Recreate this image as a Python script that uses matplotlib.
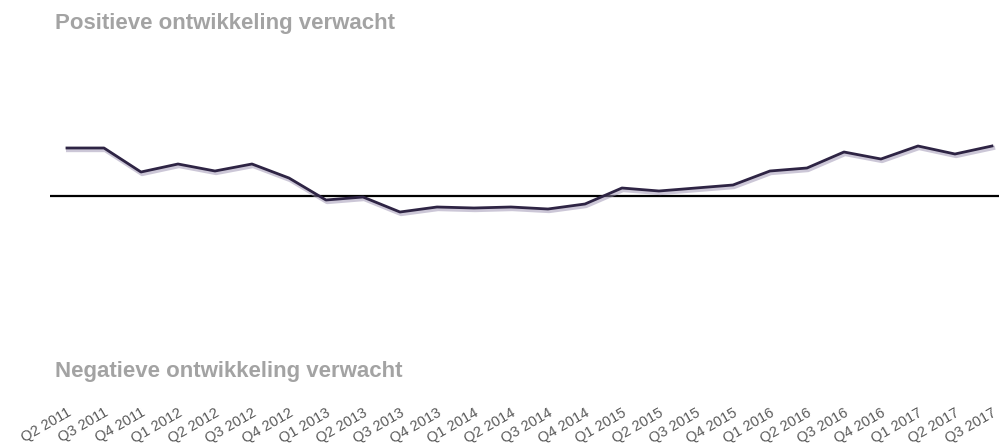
import matplotlib
matplotlib.use("Agg")
import matplotlib.pyplot as plt
import matplotlib.patheffects as pe
import numpy as np

# ── data ──────────────────────────────────────────────
quarters = [
    "Q2 2011", "Q3 2011", "Q4 2011", "Q1 2012", "Q2 2012", "Q3 2012",
    "Q4 2012", "Q1 2013", "Q2 2013", "Q3 2013", "Q4 2013", "Q1 2014",
    "Q2 2014", "Q3 2014", "Q4 2014", "Q1 2015", "Q2 2015", "Q3 2015",
    "Q4 2015", "Q1 2016", "Q2 2016", "Q3 2016", "Q4 2016", "Q1 2017",
    "Q2 2017", "Q3 2017",
]
values = [48, 48, 24, 32, 25, 32, 18, -4, -1, -16, -11, -12, -11,
          -13, -8, 8, 5, 8, 11, 25, 28, 44, 37, 50, 42, 50]

title_pos = "Positieve ontwikkeling verwacht"
title_neg = "Negatieve ontwikkeling verwacht"

plt.rcParams["font.family"] = ["Liberation Sans", "DejaVu Sans"]

fig = plt.figure(figsize=(9.99, 4.44), dpi=100)
ax = fig.add_axes([0.05, 1 - 350 / 444, 0.95, 308 / 444])

x = np.arange(len(quarters))
ax.axhline(0, color="black", linewidth=1.6, zorder=1)
ax.plot(x, values, color="#2e2444", linewidth=2.0, zorder=2,
        path_effects=[pe.SimpleLineShadow(offset=(0.8, -1.5), shadow_color="#9a90b0", alpha=0.5,
                                          linewidth=3.0),
                      pe.Normal()])

ax.set_xlim(-0.46, 25.19)
ax.set_ylim(-154, 154)
ax.set_yticks([])
ax.set_xticks(x)
ax.set_xticklabels(quarters, rotation=30, ha="right", va="top",
                   rotation_mode="anchor", fontsize=10.5, color="#5a5a5a")
ax.tick_params(axis="x", length=0, pad=40)
for s in ax.spines.values():
    s.set_visible(False)

fig.text(55 / 999, 1 - 23 / 444, title_pos, fontsize=16, fontweight="bold",
         color="#a3a3a3", va="center", ha="left")
fig.text(55 / 999, 1 - 371 / 444, title_neg, fontsize=16, fontweight="bold",
         color="#a3a3a3", va="center", ha="left")

fig.savefig("out.png", dpi=100)
